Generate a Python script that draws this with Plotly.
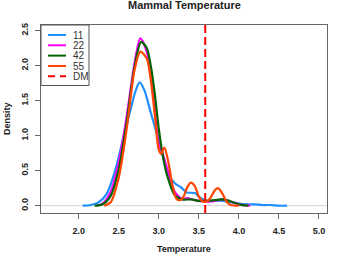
import plotly.graph_objects as go

# ---- data ----
series_names = ["11", "22", "42", "55"]
series_colors = ["#1E90FF", "#FF00FF", "#006400", "#FF4500"]

x_11 = [2.05, 2.15, 2.25, 2.35, 2.45, 2.55, 2.65, 2.70, 2.76, 2.82, 2.90, 2.97, 3.05, 3.12, 3.20, 3.28,
        3.35, 3.45, 3.52, 3.60, 3.70, 3.80, 3.90, 4.00, 4.10, 4.20, 4.30, 4.40, 4.50, 4.60]
y_11 = [0.00, 0.01, 0.05, 0.17, 0.48, 0.93, 1.38, 1.60, 1.76, 1.65, 1.33, 1.05, 0.71, 0.45, 0.32, 0.26,
        0.19, 0.18, 0.11, 0.07, 0.07, 0.07, 0.05, 0.03, 0.02, 0.02, 0.01, 0.01, 0.00, 0.00]

x_22 = [2.22, 2.30, 2.40, 2.50, 2.60, 2.70, 2.77, 2.85, 2.90, 2.95, 3.00, 3.05, 3.10, 3.20, 3.30, 3.35,
        3.45, 3.55, 3.65, 3.80, 3.90, 4.00, 4.14]
y_22 = [0.00, 0.03, 0.20, 0.62, 1.28, 2.05, 2.39, 2.20, 1.85, 1.40, 0.88, 0.74, 0.55, 0.20, 0.09, 0.11,
        0.08, 0.06, 0.06, 0.09, 0.06, 0.02, 0.00]

x_42 = [2.20, 2.30, 2.40, 2.50, 2.60, 2.70, 2.78, 2.85, 2.90, 2.95, 3.00, 3.05, 3.10, 3.20, 3.30, 3.40,
        3.50, 3.60, 3.70, 3.80, 3.90, 4.00, 4.12]
y_42 = [0.00, 0.02, 0.14, 0.52, 1.20, 2.00, 2.34, 2.25, 2.00, 1.60, 1.10, 0.72, 0.45, 0.15, 0.09, 0.09,
        0.07, 0.07, 0.08, 0.09, 0.06, 0.02, 0.00]

x_55 = [2.32, 2.40, 2.50, 2.60, 2.70, 2.77, 2.85, 2.90, 2.95, 3.00, 3.03, 3.07, 3.12, 3.17, 3.22, 3.27,
        3.31, 3.35, 3.40, 3.45, 3.50, 3.55, 3.60, 3.65, 3.70, 3.74, 3.80, 3.85, 3.90, 4.00]
y_55 = [0.00, 0.05, 0.40, 1.10, 1.95, 2.20, 2.10, 1.80, 1.30, 0.80, 0.74, 0.83, 0.62, 0.30, 0.10, 0.08,
        0.13, 0.25, 0.33, 0.28, 0.13, 0.06, 0.06, 0.12, 0.22, 0.25, 0.16, 0.05, 0.01, 0.00]

dm_value = 3.58
dm_name = "DM"

x_ticks = [2.0, 2.5, 3.0, 3.5, 4.0, 4.5, 5.0]
y_ticks = [0.0, 0.5, 1.0, 1.5, 2.0, 2.5]

title_text = "Mammal Temperature"
x_title = "Temperature"
y_title = "Density"

# ---- figure ----
W, H = 349, 261
ML, MR, MT, MB = 41, 22, 25, 48
PW, PH = W - ML - MR, H - MT - MB

FONT = "Liberation Sans, Arial, Helvetica, sans-serif"

xs = [x_11, x_22, x_42, x_55]
ys = [y_11, y_22, y_42, y_55]

fig = go.Figure()
for name, col, xv, yv in zip(series_names, series_colors, xs, ys):
    fig.add_trace(go.Scatter(x=xv, y=yv, mode="lines", name=name,
                             line=dict(color=col, width=2.2, shape="spline", smoothing=0.8),
                             showlegend=False))

# horizontal zero line
fig.add_shape(type="line", xref="paper", yref="y", x0=0, x1=1, y0=0, y1=0,
              line=dict(color="#d3d3d3", width=1), layer="below")
# DM vertical line
fig.add_shape(type="line", xref="x", yref="paper", x0=dm_value, x1=dm_value, y0=0, y1=1,
              line=dict(color="#FF0000", width=2, dash="8px,4px"))

# custom legend (R-style compact box)
def px_x(px):
    return (px - ML) / PW

def px_y(py):
    return 1 - (py - MT) / PH

fig.add_shape(type="rect", xref="paper", yref="paper",
              x0=px_x(41), x1=px_x(89), y0=px_y(85.5), y1=1,
              line=dict(color="#555555", width=1), fillcolor="white")
leg_names = series_names + [dm_name]
leg_colors = series_colors + ["#FF0000"]
row_y = [35, 45.3, 55.6, 66, 76.3]
for i, (nm, col) in enumerate(zip(leg_names, leg_colors)):
    yy = px_y(row_y[i])
    if nm == dm_name:
        fig.add_shape(type="line", xref="paper", yref="paper", x0=px_x(48), x1=px_x(66),
                      y0=yy, y1=yy, line=dict(color=col, width=2, dash="7px,5px"))
    else:
        fig.add_shape(type="line", xref="paper", yref="paper", x0=px_x(48), x1=px_x(66),
                      y0=yy, y1=yy, line=dict(color=col, width=2))
    fig.add_annotation(xref="paper", yref="paper", x=px_x(71), y=yy, text=nm,
                       showarrow=False, xanchor="left", yanchor="middle",
                       font=dict(family=FONT, size=10, color="#333333"))

# titles
fig.add_annotation(xref="paper", yref="paper", x=0.5, y=px_y(5.5), text=title_text,
                   showarrow=False, xanchor="center", yanchor="middle",
                   font=dict(family=FONT, size=11, color="#222222", weight="bold"))
fig.add_annotation(xref="paper", yref="paper", x=0.5, y=px_y(249), text=x_title,
                   showarrow=False, xanchor="center", yanchor="middle",
                   font=dict(family=FONT, size=9, color="#222222", weight="bold"))
fig.add_annotation(xref="paper", yref="paper", x=px_x(7), y=0.5, text=y_title, textangle=-90,
                   showarrow=False, xanchor="center", yanchor="middle",
                   font=dict(family=FONT, size=9, color="#222222", weight="bold"))

axis_common = dict(showgrid=False, zeroline=False, showline=True, mirror=True,
                   linecolor="#666666", linewidth=1, ticks="outside", ticklen=5,
                   tickcolor="#666666", tickformat=".1f",
                   tickfont=dict(family=FONT, size=9, color="#222222", weight="bold"))

fig.update_layout(
    width=W, height=H,
    margin=dict(l=ML, r=MR, t=MT, b=MB, pad=0),
    paper_bgcolor="white", plot_bgcolor="white",
    xaxis=dict(range=[1.53, 5.1], tickvals=x_ticks, ticklabelstandoff=4, **axis_common),
    yaxis=dict(range=[-0.104, 2.58], tickvals=y_ticks, tickangle=-90, ticklabelstandoff=3, **axis_common),
    showlegend=False,
)

fig.write_html("out.html", config={"displayModeBar": False},
               post_script="document.body.style.margin='0';document.body.style.overflow='hidden';")
